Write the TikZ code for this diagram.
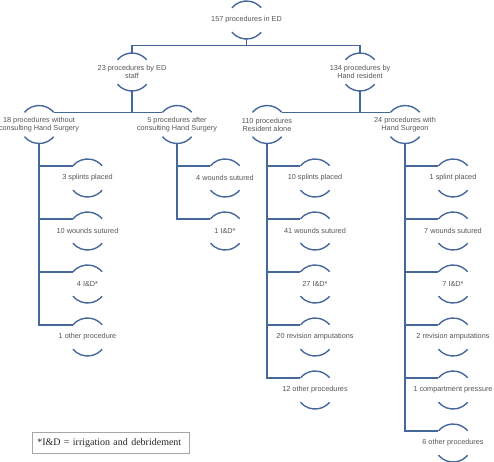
\documentclass[tikz,border=0pt]{standalone}
\usepackage{fontspec}
\setmainfont{Liberation Serif}
\setsansfont{Liberation Sans}
\definecolor{lc}{HTML}{46679A}
\definecolor{tc}{HTML}{555555}
\begin{document}
\begin{tikzpicture}[x=1pt,y=-1pt,
  lbl/.style={inner sep=0pt, align=center, font=\sffamily\fontsize{7.3}{8.2}\selectfont, text=tc},
  conn/.style={draw=lc, line width=1.5pt},
  capline/.style={draw=lc, line width=1.4pt},
  note/.style={draw=gray!70, line width=0.6pt, font=\rmfamily\fontsize{10}{12}\selectfont, text=black!85,
    text width=147pt, inner xsep=5pt, inner ysep=0pt, minimum height=21pt, align=left, anchor=north west}
]
\useasboundingbox (0,0) rectangle (494,461);

% level 0 and 1
\node[lbl] (r) at (246.5,20) {157 procedures in ED};
\node[lbl] (a) at (132,72) {23 procedures by ED\\staff};
\node[lbl] (b) at (360,72) {134 procedures by\\Hand resident};
% level 2
\node[lbl] (a1) at (39,124.5) {18 procedures without\\consulting Hand Surgery};
\node[lbl] (a2) at (177,124.5) {5 procedures after\\consulting Hand Surgery};
\node[lbl] (b1) at (267,124.5) {110 procedures\\Resident alone};
\node[lbl] (b2) at (405,124.5) {24 procedures with\\Hand Surgeon};
% leaves
\node[lbl] (a1a) at (87.5,178) {3 splints placed};
\node[lbl] (a1b) at (87.5,231) {10 wounds sutured};
\node[lbl] (a1c) at (87.5,284) {4 I\&D*};
\node[lbl] (a1d) at (87.5,337) {1 other procedure};
\node[lbl] (a2a) at (225,178) {4 wounds sutured};
\node[lbl] (a2b) at (225,231) {1 I\&D*};
\node[lbl] (b1a) at (315,178) {10 splints placed};
\node[lbl] (b1b) at (315,231) {41 wounds sutured};
\node[lbl] (b1c) at (315,284) {27 I\&D*};
\node[lbl] (b1d) at (315,337) {20 revision amputations};
\node[lbl] (b1e) at (315,390) {12 other procedures};
\node[lbl] (b2a) at (453,178) {1 splint placed};
\node[lbl] (b2b) at (453,231) {7 wounds sutured};
\node[lbl] (b2c) at (453,284) {7 I\&D*};
\node[lbl] (b2d) at (453,337) {2 revision amputations};
\node[lbl] (b2e) at (453,390) {1 compartment pressure};
\node[lbl] (b2f) at (453,443) {6 other procedures};

% caps
\foreach \n in {r,a,b,a1,a2,b1,b2,a1a,a1b,a1c,a1d,a2a,a2b,b1a,b1b,b1c,b1d,b1e,b2a,b2b,b2c,b2d,b2e,b2f}
  \draw[capline] ([shift={(140:19pt)}]\n.center) arc[start angle=140,end angle=40,radius=19pt]
             ([shift={(220:19pt)}]\n.center) arc[start angle=220,end angle=320,radius=19pt];

% connectors
\draw[conn] ([yshift=-19pt]r.center) -- ++(0pt,-6.5pt) -| ([yshift=19pt]a.center);
\draw[conn] ([yshift=-19pt]r.center) -- ++(0pt,-6.5pt) -| ([yshift=19pt]b.center);
\draw[conn] ([yshift=-19pt]a.center) |- ([shift={(40:19pt)}]a1.center);
\draw[conn] ([yshift=-19pt]a.center) |- ([shift={(140:19pt)}]a2.center);
\draw[conn] ([yshift=-19pt]b.center) |- ([shift={(40:19pt)}]b1.center);
\draw[conn] ([yshift=-19pt]b.center) |- ([shift={(140:19pt)}]b2.center);
\foreach \p/\c in {a1/a1a,a1/a1b,a1/a1c,a1/a1d,a2/a2a,a2/a2b,b1/b1a,b1/b1b,b1/b1c,b1/b1d,b1/b1e,b2/b2a,b2/b2b,b2/b2c,b2/b2d,b2/b2e,b2/b2f}
  \draw[conn] ([yshift=-19pt]\p.center) |- ([shift={(140:19pt)}]\c.center);

% footnote
\node[note] (fn) at (32,432) {*I\&D = irrigation and debridement};
\end{tikzpicture}
\end{document}
